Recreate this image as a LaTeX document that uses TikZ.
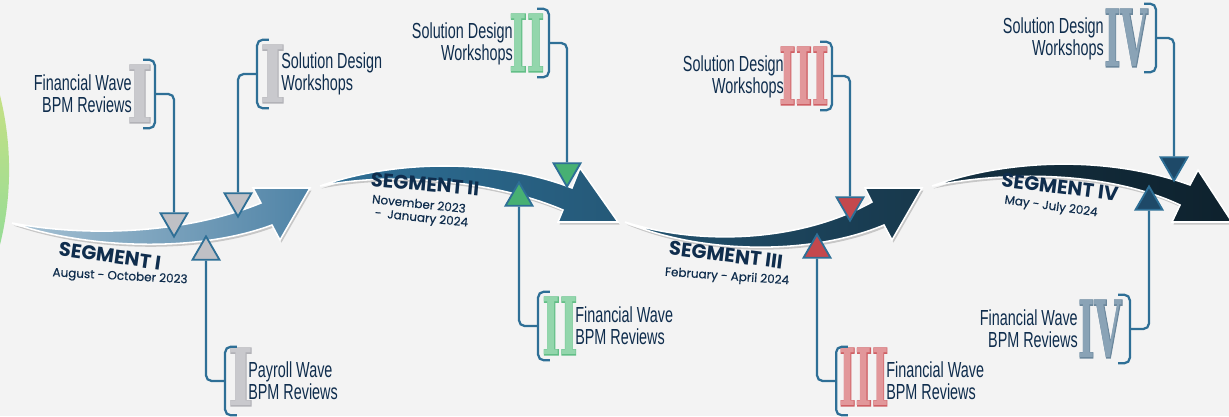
\documentclass[tikz,border=0pt]{standalone}
\usepackage{fontspec}
\usetikzlibrary{shapes.geometric}
\setmainfont{Liberation Sans}
\newfontfamily\labelfont[FakeStretch=0.66]{Liberation Sans}
\newfontfamily\segfont{Poppins}
\newfontfamily\datefont[FakeBold=0.4]{Poppins}
\newfontfamily\numfont{DejaVu Serif}
\newfontfamily\numedge[FakeBold=2.5]{DejaVu Serif}

\definecolor{bgcol}{HTML}{F3F3F3}
\definecolor{ink}{HTML}{0F2D4D}
\definecolor{linkcol}{HTML}{2E6F96}
\definecolor{swlight}{HTML}{A7C2D4}
\definecolor{swsteel}{HTML}{4F83A6}
\definecolor{numgray}{HTML}{C9C9CD}
\definecolor{edgegray}{HTML}{B2B2B7}
\definecolor{numgreen}{HTML}{93D6AC}
\definecolor{edgegreen}{HTML}{62BE86}
\definecolor{numred}{HTML}{E2979A}
\definecolor{edgered}{HTML}{CF5F64}
\definecolor{numblue}{HTML}{8AA3B6}
\definecolor{edgeblue}{HTML}{6B879C}
\definecolor{mkgray}{HTML}{BFC0C5}
\definecolor{mkgreen}{HTML}{47B073}
\definecolor{mkred}{HTML}{C4484D}
\definecolor{mkblue}{HTML}{1E4968}

% squeezed roman numeral with a darker rim
\newcommand{\numx}[3]{\scalebox{#1}[1.4]{\makebox[0pt][l]{\numedge\bfseries\color{edge#2}#3}\textcolor{num#2}{#3}}}

\tikzset{
  link/.style={draw=linkcol, line width=1.6pt, rounded corners=4pt},
  marker/.style={regular polygon, regular polygon sides=3, minimum size=0.78cm, inner sep=0pt, draw=linkcol, line width=1.3pt},
  brk/.style={minimum width=0.28cm, minimum height=1.7cm, inner sep=0pt},
  numeral/.style={inner sep=0pt, font=\numfont\bfseries\fontsize{40}{40}\selectfont},
  lbl/.style={inner sep=0pt, text=ink, font=\labelfont\fontsize{15.5}{15.6}\selectfont},
  seg/.style={inner sep=0pt, text=ink, font=\segfont\bfseries\fontsize{14}{14}\selectfont},
  dates/.style={inner sep=0pt, text=ink, font=\datefont\fontsize{8.5}{9.5}\selectfont},
  swoosh/.style={draw=white, line width=1.1pt, preaction={fill=black, fill opacity=.18, transform canvas={shift={(1.5,2.5)}}}}
}

\begin{document}
\begin{tikzpicture}[x=0.025cm, y=-0.025cm]
    \useasboundingbox (0,0) rectangle (1229,416);
    \fill[bgcol] (0,0) rectangle (1229,416);
    \clip (0,0) rectangle (1229,416);

    % green disc cut by the left edge
    \begin{scope}
        \clip (-300,170) circle (7.725cm);
        \shade[top color=green!30!yellow!60!gray!60, bottom color=green!50!gray!55] (-10,95) rectangle (20,245);
    \end{scope}

    % the four segment arrows
    \path[swoosh, left color=swlight, right color=swsteel] (12,223) .. controls (80,236) and (180,236) .. (261,203) -- (253,188) -- (310,188) -- (280,240) -- (272,225) .. controls (200,252) and (90,250) .. (12,223) -- cycle;
    \path[swoosh, left color=linkcol, right color=linkcol!80!black] (320,186) .. controls (400,158) and (500,160) .. (572,188) -- (580,168) -- (618,222) -- (558,222) -- (563,210) .. controls (500,183) and (400,170) .. (320,186) -- cycle;
    \path[swoosh, left color=linkcol!75!black, right color=linkcol!50!black] (625,222) .. controls (700,246) and (800,242) .. (872,202) -- (865,188) -- (922,188) -- (892,240) -- (884,225) .. controls (810,256) and (700,254) .. (625,222) -- cycle;
    \path[swoosh, left color=linkcol!45!black, right color=linkcol!30!black] (932,186) .. controls (1010,158) and (1110,156) .. (1190,185) -- (1198,170) -- (1232,222) -- (1172,222) -- (1180,205) .. controls (1110,172) and (1010,170) .. (932,186) -- cycle;

    % segment titles and dates
    \node[seg, rotate=-8] (s1) at (110,256) {SEGMENT I};
    \node[dates, rotate=-3] (d1) at (120,277) {August - October 2023};
    \node[seg, rotate=-5] (s2) at (425,184) {SEGMENT II};
    \node[dates, rotate=-6, align=left] (d2) at (420,212) {November 2023\\\hspace{0.35em}-\hspace{0.5em}January 2024};
    \node[seg, rotate=-7] (s3) at (726,255) {SEGMENT III};
    \node[dates, rotate=-4] (d3) at (727,277) {February - April 2024};
    \node[seg, rotate=-7] (s4) at (1060,187) {SEGMENT IV};
    \node[dates, rotate=-8] (d4) at (1051,207) {May - July 2024};

    % markers on the arrows
    \node[marker, fill=mkgray, rotate=180] (m1) at (174,221) {};
    \node[marker, fill=mkgray, rotate=180] (m2) at (238,201) {};
    \node[marker, fill=mkgray] (m3) at (206,252) {};
    \node[marker, fill=mkgreen, rotate=180] (m4) at (567,171) {};
    \node[marker, fill=mkgreen] (m5) at (519,198) {};
    \node[marker, fill=mkred, rotate=180] (m6) at (850,205) {};
    \node[marker, fill=mkred] (m7) at (817,250) {};
    \node[marker, fill=mkblue, rotate=180] (m8) at (1174,165) {};
    \node[marker, fill=mkblue] (m9) at (1149,202) {};

    % roman numerals
    \node[numeral] (n1) at (140,94) {\numx{0.95}{gray}{I}};
    \node[numeral] (n2) at (273,74) {\numx{0.95}{gray}{I}};
    \node[numeral] (n3) at (241,377) {\numx{0.95}{gray}{I}};
    \node[numeral] (n4) at (527,43) {\numx{0.66}{green}{II}};
    \node[numeral] (n5) at (560,326) {\numx{0.66}{green}{II}};
    \node[numeral] (n6) at (804,76) {\numx{0.62}{red}{III}};
    \node[numeral] (n7) at (864,377) {\numx{0.62}{red}{III}};
    \node[numeral] (n8) at (1126,38) {\numx{0.62}{blue}{IV}};
    \node[numeral] (n9) at (1100,329) {\numx{0.62}{blue}{IV}};

    % labels
    \node[lbl, anchor=east, align=right] (t1) at (132,94) {Financial Wave\\BPM Reviews};
    \node[lbl, anchor=west, align=left] (t2) at (281,74) {Solution Design\\Workshops};
    \node[lbl, anchor=west, align=left] (t3) at (248,381) {Payroll Wave\\BPM Reviews};
    \node[lbl, anchor=east, align=right] (t4) at (513,44) {Solution Design\\Workshops};
    \node[lbl, anchor=west, align=left] (t5) at (575,326) {Financial Wave\\BPM Reviews};
    \node[lbl, anchor=east, align=right] (t6) at (784,77) {Solution Design\\Workshops};
    \node[lbl, anchor=west, align=left] (t7) at (886,381) {Financial Wave\\BPM Reviews};
    \node[lbl, anchor=east, align=right] (t8) at (1104,39) {Solution Design\\Workshops};
    \node[lbl, anchor=east, align=right] (t9) at (1078,329) {Financial Wave\\BPM Reviews};

    % brackets
    \node[brk] (b1) at (149,94) {};
    \node[brk] (b2) at (263,74) {};
    \node[brk] (b3) at (231,381) {};
    \node[brk] (b4) at (543,43) {};
    \node[brk] (b5) at (544,326) {};
    \node[brk] (b6) at (826,76) {};
    \node[brk] (b7) at (842,381) {};
    \node[brk] (b8) at (1150,38) {};
    \node[brk] (b9) at (1124,329) {};
    \foreach \b in {b1,b4,b6,b8,b9}
        \draw[link] (\b.north west) -| (\b.south east) -- (\b.south west);
    \foreach \b in {b2,b3,b5,b7}
        \draw[link] (\b.north east) -| (\b.south west) -- (\b.south east);

    % connectors
    \draw[link] (b1.east) -| (m1.side 2);
    \draw[link] (b2.west) -| (m2.side 2);
    \draw[link] (b3.west) -| (m3.side 2);
    \draw[link] (b4.east) -| (m4.side 2);
    \draw[link] (b5.west) -| (m5.side 2);
    \draw[link] (b6.east) -| (m6.side 2);
    \draw[link] (b7.west) -| (m7.side 2);
    \draw[link] (b8.east) -| (m8.side 2);
    \draw[link] (b9.east) -| (m9.side 2);
\end{tikzpicture}
\end{document}
